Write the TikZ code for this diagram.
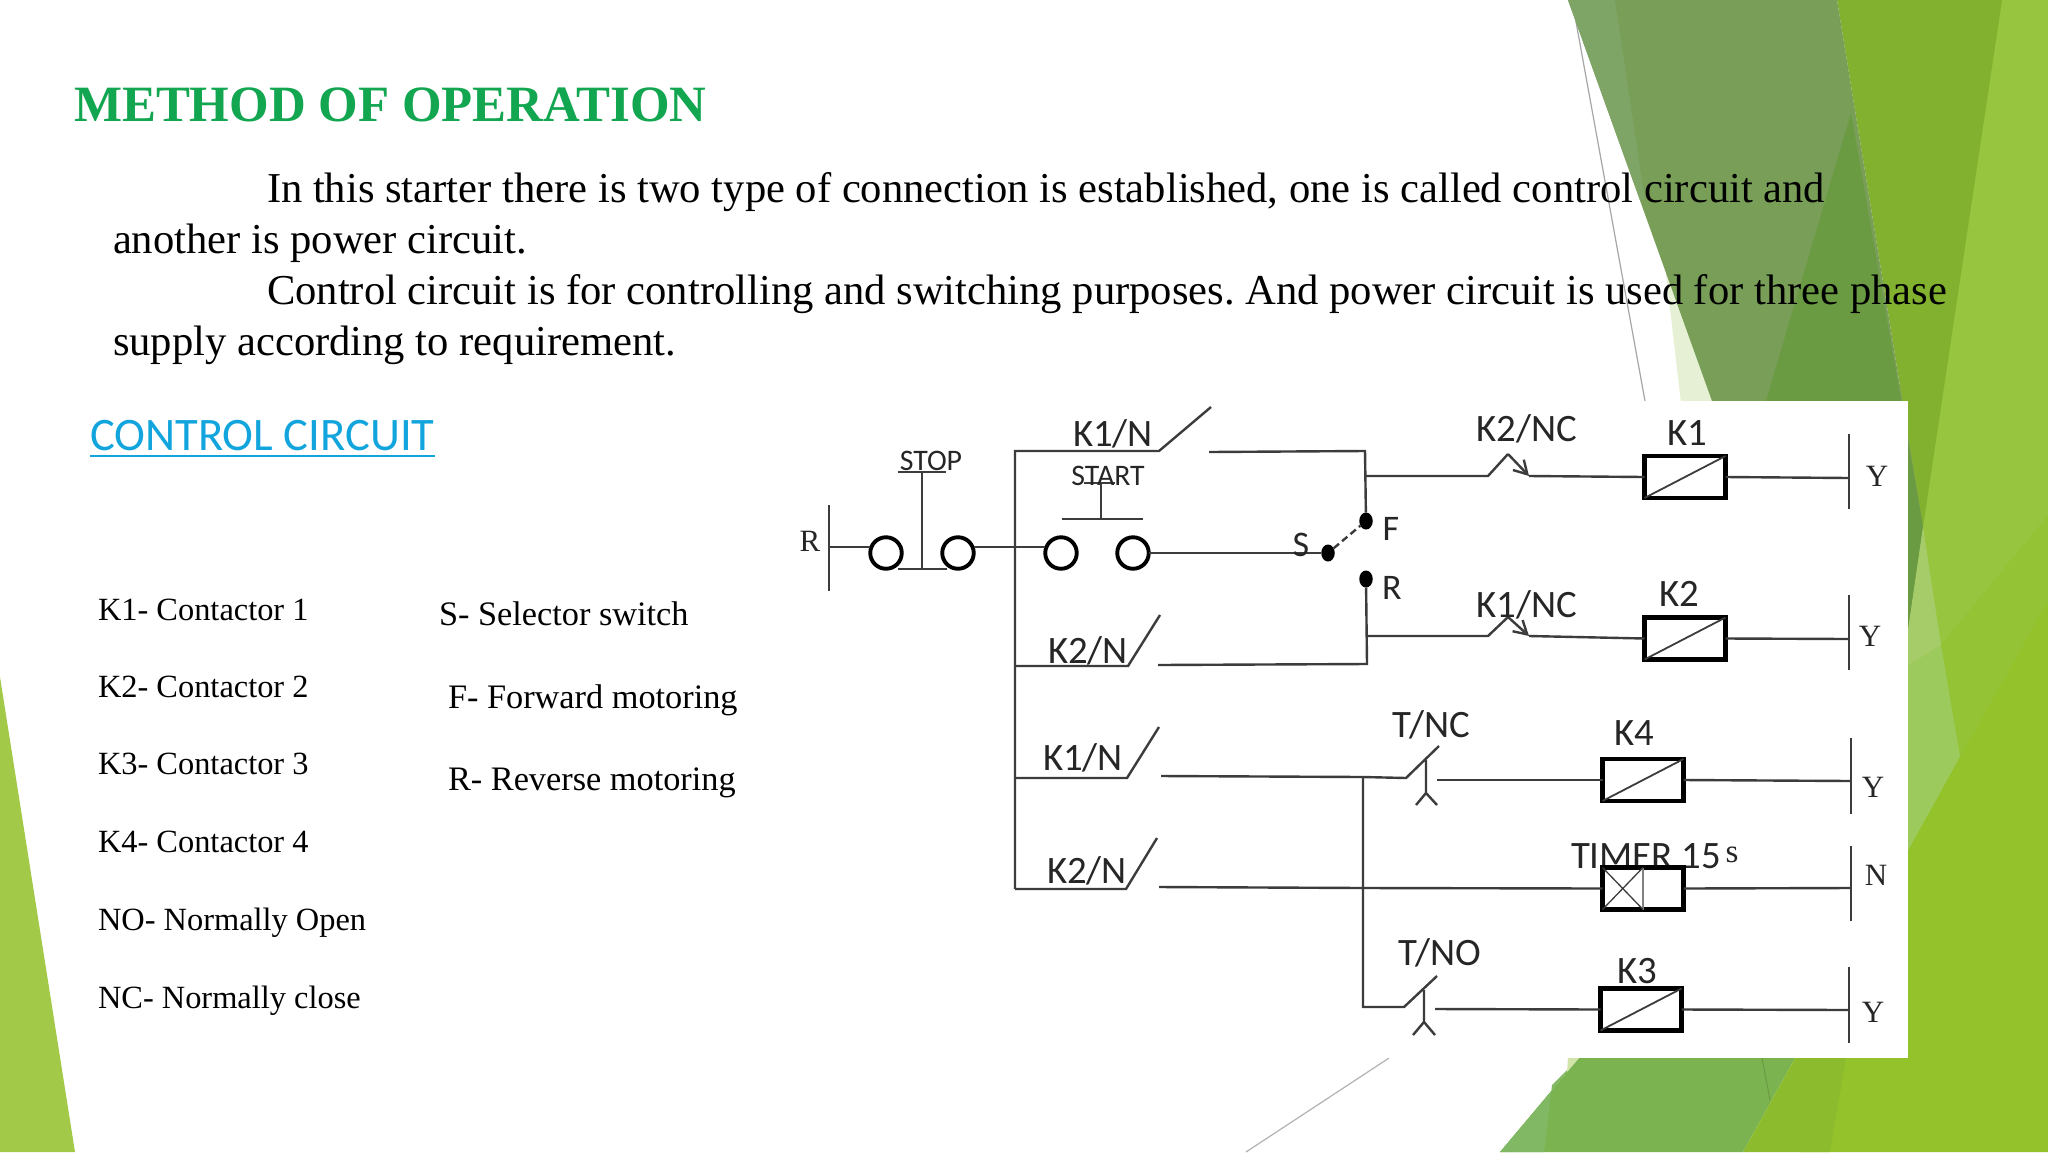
\documentclass[tikz,border=0pt]{standalone}
\usepackage{fontspec}
\setmainfont{Liberation Serif}
\newfontfamily\carl{Carlito}
\usetikzlibrary{arrows.meta,shapes.geometric}
\frenchspacing
\definecolor{olive}{HTML}{789E57}
\definecolor{olivelt}{HTML}{7EA466}
\definecolor{olivedk}{HTML}{6A9A42}
\definecolor{midgreen}{HTML}{82B02F}
\definecolor{lightgreen}{HTML}{98C53F}
\definecolor{basegreen}{HTML}{93C22B}
\definecolor{bandgreen}{HTML}{95C336}
\definecolor{palegreen}{HTML}{E5F0D4}
\definecolor{paleA}{HTML}{A6CC69}
\definecolor{paleB}{HTML}{9DCA5D}
\definecolor{botgreen}{HTML}{7AB350}
\definecolor{botlt}{HTML}{80B863}
\definecolor{botmid}{HTML}{8CBB2E}
\definecolor{lefttri}{HTML}{A2C948}
\definecolor{titlegreen}{HTML}{12A650}
\definecolor{linkblue}{HTML}{12A5DD}
\definecolor{wirec}{HTML}{3C3C3C}
\tikzset{
 txt/.style={inner sep=0pt,outer sep=0pt,anchor=base west,text=black},
 body/.style={txt,font=\fontsize{42.6}{50}\selectfont},
 legend/.style={txt,font=\fontsize{32.4}{38}\selectfont},
 legendb/.style={txt,font=\fontsize{34.3}{38}\selectfont},
 wire/.style={draw=wirec,line width=2.4pt},
 thinbar/.style={draw=wirec,line width=2.2pt},
 contact/.style={circle,draw=black,line width=3.9pt,minimum size=31.5pt,inner sep=0pt,outer sep=0pt,fill=white},
 sdot/.style={ellipse,fill=black,minimum width=13.5pt,minimum height=17pt,inner sep=0pt,outer sep=0pt},
 coil/.style={rectangle,draw=black,line width=4.4pt,fill=white,inner sep=0pt,outer sep=0pt,minimum width=81pt,minimum height=42pt},
 clab/.style={inner sep=0pt,outer sep=0pt,font=\carl\fontsize{38.8}{40}\selectfont,text=black!85},
 blab/.style={inner sep=0pt,outer sep=0pt,font=\carl\fontsize{36}{38}\selectfont,text=black!85},
 slab/.style={inner sep=0pt,outer sep=0pt,font=\carl\fontsize{29.8}{32}\selectfont,text=black!85},
 rlab/.style={inner sep=0pt,outer sep=0pt,font=\fontsize{31}{33}\selectfont,text=black!85},
}
\begin{document}
\begin{tikzpicture}[x=1pt,y=-1pt]
\useasboundingbox (0,0) rectangle (2048,1152);
\fill[white] (0,0) rectangle (2048,1152);
% background shapes
\fill[lefttri] (0,677) -- (75,1152) -- (0,1152) -- cycle;
\draw[gray!70,line width=1.2pt] (1572,0) -- (1645,401);
\fill[lightgreen] (1900,0) rectangle (2048,900);
\fill[bandgreen] (1941,645) -- (2048,515) -- (2048,601) -- (1960,757) -- cycle;
\fill[midgreen] (1837,0) -- (2002,0) -- (1923,527) -- cycle;
\fill[palegreen] (1664,257) -- (1712,401) -- (1712,420) -- (1683,420) -- cycle;
\fill[olive] (1568,0) -- (1837,0) -- (1923,527) -- (1908,630) -- (1720,630) -- (1712,401) -- cycle;
\fill[olivelt] (1568,0) -- (1615,0) -- (1645,200) -- (1640,200) -- cycle;
\fill[olivedk] (1851,113) -- (1766,401) -- (1780,630) -- (1908,630) -- (1923,527) -- cycle;
\fill[paleA] (1923,527) -- (1941,645) -- (1908,666) -- (1908,630) -- cycle;
\fill[paleB] (1941,645) -- (1960,757) -- (1908,851) -- (1908,666) -- cycle;
\fill[basegreen] (1960,757) -- (2048,601) -- (2048,1152) -- (1800,1152) -- (1800,851) -- (1908,851) -- cycle;
\fill[botgreen] (1579,1058) -- (1795,1058) -- (1743,1152) -- (1500,1152) -- cycle;
\fill[botlt] (1579,1058) -- (1552,1085) -- (1544,1152) -- (1500,1152) -- cycle;
\fill[botmid] (1795,1058) -- (1846,1058) -- (1830,1152) -- (1743,1152) -- cycle;
\fill[palegreen!70!lefttri] (1568,1058) -- (1579,1058) -- (1567,1072) -- cycle;
\draw[olivedk,line width=1pt] (1762,1058) -- (1770,1100);
\draw[gray!60,line width=1.2pt] (1389,1058) -- (1246,1152);
% diagram sheet
\fill[white] (790,401) rectangle (1908,1058);
% texts
\node[txt,font=\bfseries\fontsize{50.9}{54}\selectfont,text=titlegreen] (title) at (74,121) {METHOD OF OPERATION};
\node[body] (l1) at (267,202) {In this starter there is two type of connection is established, one is called control circuit and};
\node[body] (l2) at (113,253) {another is power circuit.};
\node[body] (l3) at (267,304) {Control circuit is for controlling and switching purposes. And power circuit is used for three phase};
\node[body] (l4) at (113,355) {supply according to requirement.};
\node[txt,font=\carl\fontsize{46.6}{48}\selectfont,text=linkblue] (cc) at (90,450) {CONTROL CIRCUIT};
\draw[linkblue,line width=2.2pt] ([yshift=-6pt]cc.base west) -- ([yshift=-6pt]cc.base east);
\node[legend] (a1) at (98,620) {K1- Contactor 1};
\node[legend] (a2) at (98,697) {K2- Contactor 2};
\node[legend] (a3) at (98,774) {K3- Contactor 3};
\node[legend] (a4) at (98,852) {K4- Contactor 4};
\node[legend] (a5) at (98,930) {NO- Normally Open};
\node[legend] (a6) at (98,1008) {NC- Normally close};
\node[legendb] (b1) at (439,625) {S- Selector switch};
\node[legendb] (b2) at (448,708) {F- Forward motoring};
\node[legendb] (b3) at (448,790) {R- Reverse motoring};
% coordinates
\coordinate (rbarT) at (829,505); \coordinate (rbarB) at (829,591); \coordinate (rbarM) at (829,547);
\coordinate (busT) at (1015,451); \coordinate (busM) at (1015,547); \coordinate (busB) at (1015,889);
\coordinate (k1nA) at (1159,451); \coordinate (k1nB) at (1211,407); \coordinate (k1nC) at (1209,452);
\coordinate (fT) at (1365,451); \coordinate (j1) at (1365,476);
\coordinate (nc1A) at (1488,476); \coordinate (nc1P) at (1508,454); \coordinate (nc1B) at (1529,476);
\coordinate (y1T) at (1849,434); \coordinate (y1B) at (1849,509); \coordinate (y1M) at (1849,478);
\coordinate (k2row) at (1015,666); \coordinate (k2nA) at (1128,666); \coordinate (k2nB) at (1160,615); \coordinate (k2nC) at (1158,665);
\coordinate (rB) at (1367,664); \coordinate (j2) at (1367,636);
\coordinate (nc2A) at (1488,636); \coordinate (nc2P) at (1508,617); \coordinate (nc2B) at (1529,636);
\coordinate (y2T) at (1849,595); \coordinate (y2B) at (1849,670); \coordinate (y2M) at (1849,639);
\coordinate (k1row) at (1015,778); \coordinate (k3nA) at (1127,778); \coordinate (k3nB) at (1159,727); \coordinate (k3nC) at (1161,776);
\coordinate (j3) at (1363,777); \coordinate (tcA) at (1406,778); \coordinate (tcB) at (1439,746); \coordinate (tcC) at (1437,780);
\coordinate (tcS) at (1426,760); \coordinate (tcF) at (1426,793); \coordinate (tcL) at (1416,805); \coordinate (tcR) at (1437,805);
\coordinate (y4T) at (1851,738); \coordinate (y4B) at (1851,814); \coordinate (y4M) at (1851,781);
\coordinate (k4nA) at (1126,889); \coordinate (k4nB) at (1157,838); \coordinate (k4nC) at (1159,887);
\coordinate (j4) at (1363,888);
\coordinate (yNT) at (1851,846); \coordinate (yNB) at (1851,921); \coordinate (yNM) at (1851,888);
\coordinate (j5) at (1363,1007); \coordinate (toA) at (1404,1007); \coordinate (toB) at (1437,976); \coordinate (toC) at (1435,1009);
\coordinate (toS) at (1424,990); \coordinate (toF) at (1424,1022); \coordinate (toL) at (1413,1035); \coordinate (toR) at (1435,1035);
\coordinate (y3T) at (1849,967); \coordinate (y3B) at (1849,1043); \coordinate (y3M) at (1849,1010);
\coordinate (stopBar) at (922,569); \coordinate (stopTop) at (922,472); \coordinate (stopL) at (898,472); \coordinate (stopR) at (946,472);
\coordinate (stopA) at (898,569); \coordinate (stopB) at (947,569);
\coordinate (startBar) at (1101,519); \coordinate (startTop) at (1101,482); \coordinate (startL) at (1062,519); \coordinate (startR) at (1143,519);
\coordinate (startUL) at (1084,483); \coordinate (startUR) at (1115,483);
% labels that sit under the coils
\node[clab] (timerlab) at (1646,856) {TIMER 15};
\node[rlab,font=\fontsize{33}{35}\selectfont] (timers) at (1732,855) {s};
% contacts, coils
\node[contact] (c1) at (886,553) {};
\node[contact] (c2) at (958,553) {};
\node[contact] (c3) at (1061,553) {};
\node[contact] (c4) at (1133,553) {};
\node[sdot] (dF) at (1366,521) {};
\node[sdot] (dR) at (1366,579) {};
\node[sdot] (dS) at (1328,553) {};
\node[coil] (K1) at (1685,477) {};
\node[coil] (K2) at (1685,638.5) {};
\node[coil] (K4) at (1643,780) {};
\node[coil] (T) at (1643,888.5) {};
\node[coil] (K3) at (1641,1009.5) {};
\draw[wirec,line width=1.8pt] (K1.south west) -- (K1.north east);
\draw[wirec,line width=1.8pt] (K2.south west) -- (K2.north east);
\draw[wirec,line width=1.8pt] (K4.south west) -- (K4.north east);
\draw[wirec,line width=1.8pt] (K3.south west) -- (K3.north east);
\coordinate (tdT) at (T.north); \coordinate (tdB) at (T.south);
\draw[gray,line width=2pt] (tdT) -- (tdB);
\draw[wirec,line width=1.3pt] (T.north west) -- (tdB) (T.south west) -- (tdT);
% wiring
\draw[thinbar] (rbarT) -- (rbarB);
\draw[wire] (rbarM) -- (c1.west |- rbarM);
\draw[wire] (c2.east |- busM) -- (c3.west |- busM);
\draw[wire] (stopA) -- (stopB) (stopBar) -- (stopTop) (stopL) -- (stopR);
\draw[wire] (startBar) -- (startTop) (startL) -- (startR) (startUL) -- (startUR);
\draw[wire] (busB) -- (busT) -- (k1nA) -- (k1nB);
\draw[wire] (k1nC) -- (fT) -- (dF);
\draw[wire] (j1) -- (nc1A) -- (nc1P);
\draw[wire,-{Straight Barb[length=13pt,width=15pt]}] (nc1P) -- (nc1B);
\draw[wire] (nc1B) -- (K1.west);
\draw[wire] (K1.east) -- (y1M);
\draw[thinbar] (y1T) -- (y1B);
\draw[wire] (c4.east) -- (dS);
\draw[wire,dash pattern=on 7pt off 4pt] (dS) -- (dF);
\draw[wire] (dR) -- (rB) -- (k2nC);
\draw[wire] (k2row) -- (k2nA) -- (k2nB);
\draw[wire] (j2) -- (nc2A) -- (nc2P);
\draw[wire,-{Straight Barb[length=13pt,width=15pt]}] (nc2P) -- (nc2B);
\draw[wire] (nc2B) -- (K2.west);
\draw[wire] (K2.east) -- (y2M);
\draw[thinbar] (y2T) -- (y2B);
\draw[wire] (k1row) -- (k3nA) -- (k3nB);
\draw[wire] (k3nC) -- (j3) -- (tcA) -- (tcB);
\draw[wire] (tcS) -- (tcF) -- (tcL) (tcF) -- (tcR);
\draw[wire] (tcC) -- (K4.west);
\draw[wire] (K4.east) -- (y4M);
\draw[thinbar] (y4T) -- (y4B);
\draw[wire] (busB) -- (k4nA) -- (k4nB);
\draw[wire] (k4nC) -- (j4) -- (T.west);
\draw[wire] (T.east) -- (yNM);
\draw[thinbar] (yNT) -- (yNB);
\draw[wire] (j3) -- (j5) -- (toA) -- (toB);
\draw[wire] (toS) -- (toF) -- (toL) (toF) -- (toR);
\draw[wire] (toC) -- (K3.west);
\draw[wire] (K3.east) -- (y3M);
\draw[thinbar] (y3T) -- (y3B);
% labels
\node[rlab] (Rl) at (810,541) {R};
\node[slab] (stoplab) at (931,461) {STOP};
\node[slab] (startlab) at (1108,476) {START};
\node[clab] (k1nl) at (1113,434) {K1/N};
\node[clab] (k2nl) at (1088,651) {K2/N};
\node[clab] (k3nl) at (1083,758) {K1/N};
\node[clab] (k4nl) at (1087,871) {K2/N};
\node[blab] (Sl) at (1301,545) {S};
\node[blab] (Fl) at (1391,529) {F};
\node[blab] (Rr) at (1392,588) {R};
\node[clab] (k2nc) at (1527,429) {K2/NC};
\node[clab] (k1nc) at (1527,605) {K1/NC};
\node[clab] (k1l) at (1687,433) {K1};
\node[clab] (k2l) at (1679,594) {K2};
\node[clab] (k4l) at (1634,733) {K4};
\node[clab] (k3l) at (1637,971) {K3};
\node[clab] (tnc) at (1431,725) {T/NC};
\node[clab] (tno) at (1440,953) {T/NO};
\node[rlab] (y1) at (1877,476) {Y};
\node[rlab] (y2) at (1870,636) {Y};
\node[rlab] (y4) at (1873,787) {Y};
\node[rlab] (yN) at (1876,875) {N};
\node[rlab] (y3) at (1873,1012) {Y};
\end{tikzpicture}
\end{document}
